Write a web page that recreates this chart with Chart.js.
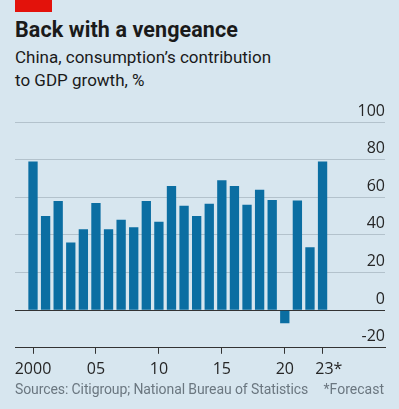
<!DOCTYPE html>
<html>
<head>
<meta charset="utf-8">
<script src="https://cdn.jsdelivr.net/npm/chart.js@4.4.0/dist/chart.umd.min.js"></script>
<style>
	html, body { margin: 0; padding: 0; }
	body { width: 399px; height: 409px; background: #d7e6ef; position: relative; overflow: hidden; font-family: Roboto, sans-serif; }
	.tag { position: absolute; left: 15px; top: 0; width: 37px; height: 12px; background: #e3120b; }
	.title { position: absolute; left: 15px; top: 17px; font-size: 21.5px; font-weight: bold; color: #1a1a1a; letter-spacing: 0.1px; }
	.subtitle { position: absolute; left: 15px; top: 46px; font-size: 17px; line-height: 23px; color: #1a1a1a; }
	.source { position: absolute; left: 15px; top: 381px; font-size: 14px; color: #6b7780; letter-spacing: -0.1px; }
	.note { position: absolute; right: 15px; top: 381px; font-size: 14px; color: #6b7780; }
	#wrap { position: absolute; left: 0; top: 95px; width: 399px; height: 290px; }
</style>
</head>
<body>
<div class="tag"></div>
<div class="title">Back with a vengeance</div>
<div class="subtitle">China, consumption’s contribution<br>to GDP growth, %</div>
<div id="wrap"><canvas id="barChart"></canvas></div>
<div class="source">Sources: Citigroup; National Bureau of Statistics</div>
<div class="note">*Forecast</div>
<script>
	// years and consumption's contribution to GDP growth, %
	var years = [2000, 2001, 2002, 2003, 2004, 2005, 2006, 2007, 2008, 2009, 2010, 2011,
		2012, 2013, 2014, 2015, 2016, 2017, 2018, 2019, 2020, 2021, 2022, 2023];
	var contribution = [79, 50, 58, 36, 43, 57, 43, 48, 44, 58, 47, 66,
		55.5, 50, 56.5, 69, 66, 56, 64, 58.5, -7, 58.3, 33.5, 79];
	var tickYears = [2000, 2005, 2010, 2015, 2020, 2023];
	var tickLabels = ['2000', '05', '10', '15', '20', '   23*'];
	var yTicks = [-20, 0, 20, 40, 60, 80, 100];

	var points = years.map(function (y, i) {
		return { x: y, y: contribution[i] };
	});

	const ctx = document.getElementById('barChart');
	new Chart(ctx, {
		type: 'bar',
		data: {
			datasets: [{
				data: points,
				backgroundColor: '#0b6ea2',
				borderWidth: 0,
				barPercentage: 0.74,
				categoryPercentage: 1
			}]
		},
		options: {
			maintainAspectRatio: false,
			animation: false,
			layout: {
				padding: { left: 15, right: 14, top: 27, bottom: 0 }
			},
			scales: {
				x: {
					type: 'linear',
					min: 1998.57,
					max: 2027.96,
					offset: false,
					afterBuildTicks: function (scale) {
						scale.ticks = tickYears.map(function (v) { return { value: v }; });
					},
					border: {
						display: true,
						color: '#333333',
						width: 1
					},
					grid: {
						offset: false,
						drawOnChartArea: false,
						drawTicks: true,
						tickLength: 6,
						color: '#333333'
					},
					ticks: {
						autoSkip: false,
						maxRotation: 0,
						padding: 6,
						color: '#262626',
						font: { family: 'Open Sans', size: 16 },
						callback: function (value) {
							var i = tickYears.indexOf(value);
							return i >= 0 ? tickLabels[i] : '';
						}
					}
				},
				y: {
					position: 'right',
					min: -20,
					max: 100,
					afterBuildTicks: function (scale) {
						scale.ticks = yTicks.map(function (v) { return { value: v }; });
					},
					border: {
						display: false
					},
					grid: {
						drawTicks: false,
						color: function (c) {
							return (c.tick && (c.tick.value === 0 || c.tick.value === -20)) ? '#333333' : '#b3c2cc';
						},
						lineWidth: 1
					},
					ticks: {
						mirror: true,
						padding: 0,
						labelOffset: -11,
						color: '#262626',
						font: { family: 'Open Sans', size: 16 }
					}
				}
			},
			plugins: {
				legend: {
					display: false
				},
				tooltip: {
					enabled: false
				}
			}
		}
	});
</script>
</body>
</html>
